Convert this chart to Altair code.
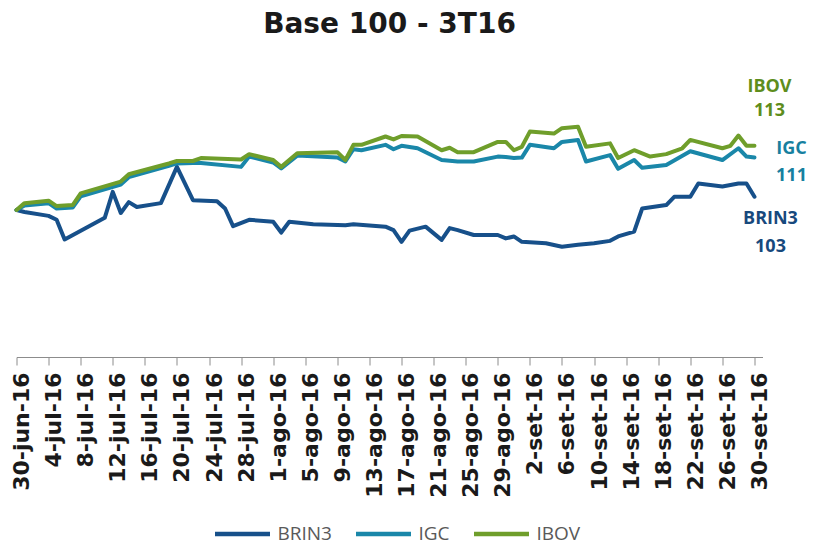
import json
import altair as alt
import pandas as pd

# ---------------- data ----------------
START = "2016-06-30"
SERIES = ["BRIN3", "IGC", "IBOV"]
COLORS = ["#17508a", "#1a87a9", "#6f9e2b"]
TEXT_COLORS = ["#17497d", "#17809f", "#5e8d1c"]
END_LABELS = ["103", "111", "113"]

# day offsets from 30-jun-16 and base-100 values
BRIN3_DAYS = [0, 1, 4, 5, 6, 11, 12, 13, 14, 15, 18, 20, 22, 25, 26, 27, 29, 32, 33, 34,
              37, 41, 42, 46, 47, 48, 49, 51, 53, 54, 55, 57, 60, 61, 62, 63, 66, 68, 70,
              72, 74, 75, 77, 78, 81, 82, 84, 85, 88, 90, 91, 92]
BRIN3_VALS = [100.0, 99.6, 98.8, 98.0, 94.0, 98.4, 103.7, 99.4, 101.6, 100.6, 101.4, 108.8,
              102.0, 101.8, 100.3, 96.7, 98.0, 97.6, 95.4, 97.6, 97.1, 96.9, 97.1, 96.6,
              95.9, 93.5, 95.8, 96.6, 93.9, 96.3, 95.9, 94.9, 94.9, 94.2, 94.6, 93.5, 93.2,
              92.5, 92.9, 93.2, 93.7, 94.6, 95.6, 100.3, 101.0, 102.7, 102.7, 105.4, 104.8,
              105.4, 105.4, 102.7]

IGC_DAYS = [0, 1, 4, 5, 7, 8, 13, 14, 19, 20, 22, 23, 28, 29, 32, 33, 35, 40, 41, 42, 43,
            46, 47, 48, 50, 53, 55, 57, 60, 61, 62, 63, 64, 67, 68, 70, 71, 74, 75, 77, 78,
            81, 84, 88, 90, 91, 92]
IGC_VALS = [100.0, 100.9, 101.4, 100.3, 100.5, 102.8, 105.2, 106.7, 109.0, 109.5, 109.6,
            109.6, 108.8, 110.9, 109.7, 108.5, 111.1, 110.7, 109.9, 112.4, 112.2, 113.3,
            112.4, 113.1, 112.6, 110.2, 109.9, 109.9, 110.9, 110.8, 110.6, 110.7, 113.3,
            112.6, 113.9, 114.3, 109.9, 111.2, 108.4, 110.2, 108.6, 109.2, 112.0, 110.2,
            112.6, 110.9, 110.7]

IBOV_DAYS = [0, 1, 4, 5, 7, 8, 13, 14, 19, 20, 22, 23, 28, 29, 32, 33, 35, 40, 41, 42, 43,
             46, 47, 48, 50, 53, 54, 55, 57, 60, 61, 62, 63, 64, 67, 68, 70, 71, 74, 75, 77,
             79, 81, 83, 84, 88, 89, 90, 91, 92]
IBOV_VALS = [100.0, 101.4, 101.9, 100.8, 101.0, 103.4, 105.8, 107.3, 109.5, 110.0, 110.0,
             110.6, 110.3, 111.4, 110.2, 108.8, 111.6, 111.8, 110.2, 113.3, 113.3, 115.0,
             114.4, 115.1, 115.0, 112.2, 112.7, 111.8, 111.8, 113.9, 113.9, 112.2, 112.9,
             116.0, 115.6, 116.7, 117.0, 112.9, 113.6, 110.6, 112.2, 110.9, 111.4, 112.6,
             114.3, 112.6, 113.1, 115.2, 113.1, 113.1]

MESES = ["jan", "fev", "mar", "abr", "mai", "jun", "jul", "ago", "set", "out", "nov", "dez"]
TICK_DAYS = list(range(0, 93, 4))

# ---------------- build tables ----------------
start = pd.Timestamp(START)


def iso(d):
    return (start + pd.Timedelta(days=d)).strftime("%Y-%m-%d")


def ms(d):
    return int((pd.Timestamp(START, tz="UTC") + pd.Timedelta(days=d)).timestamp() * 1000)


rows = []
for s, days, vals in [("BRIN3", BRIN3_DAYS, BRIN3_VALS),
                      ("IGC", IGC_DAYS, IGC_VALS),
                      ("IBOV", IBOV_DAYS, IBOV_VALS)]:
    for d, v in zip(days, vals):
        rows.append({"serie": s, "data": iso(d), "valor": v})
df = pd.DataFrame(rows)
last = df.groupby("serie", sort=False).tail(1).reset_index(drop=True)

label_expr = ("utcdate(datum.value) + '-' + " + json.dumps(MESES)
              + "[utcmonth(datum.value)] + '-' + utcFormat(datum.value, '%y')")

x = alt.X(
    "data:T",
    scale=alt.Scale(type="utc", domain=[ms(0), ms(93)], nice=False),
    axis=alt.Axis(
        values=[ms(d) for d in TICK_DAYS],
        labelExpr=label_expr,
        labelAngle=270,
        labelFont="DejaVu Sans",
        labelFontWeight="bold",
        labelFontSize=22,
        labelColor="#1a1a1a",
        labelPadding=7,
        labelOffset=5,
        labelOverlap=False,
        labelFlush=False,
        tickSize=8,
        tickColor="#8c8c8c",
        domainColor="#8c8c8c",
        grid=False,
        title=None,
    ),
)
y = alt.Y("valor:Q", scale=alt.Scale(domain=[70, 120], nice=False, zero=False), axis=None)

color = alt.Color(
    "serie:N",
    scale=alt.Scale(domain=SERIES, range=COLORS),
    legend=alt.Legend(
        orient="none",
        legendX=196,
        legendY=392,
        direction="horizontal",
        title=None,
        symbolType="stroke",
        symbolSize=3025,
        symbolStrokeWidth=4.5,
        labelFont="Open Sans",
        labelFontSize=19,
        labelColor="#595959",
        labelOffset=5,
        columnPadding=14,
        padding=0,
    ),
)

base = alt.Chart(df)
layers = []
for s in SERIES:
    layers.append(
        base.transform_filter(alt.datum.serie == s)
        .mark_line(strokeWidth=4, strokeJoin="round", strokeCap="round")
        .encode(x=x, y=y, color=color)
    )

label_style = {
    "IBOV": dict(dx=15, dy=-59, lineHeight=24),
    "IGC": dict(dx=37, dy=-9, lineHeight=27),
    "BRIN3": dict(dx=16, dy=22, lineHeight=28),
}
for s, tc, lab in zip(SERIES, TEXT_COLORS, END_LABELS):
    layers.append(
        alt.Chart(last)
        .transform_filter(alt.datum.serie == s)
        .mark_text(
            text=[s, lab],
            font="Open Sans",
            fontSize=18,
            fontWeight="bold",
            color=tc,
            align="center",
            baseline="middle",
            **label_style[s],
        )
        .encode(x=x, y=y)
    )

chart = (
    alt.layer(*layers)
    .properties(
        width=746,
        height=245,
        background="white",
        autosize=alt.AutoSizeParams(type="none"),
        padding={"left": 8.5, "top": 104, "right": 45.5, "bottom": 188},
        title=alt.TitleParams(
            "Base 100 - 3T16",
            font="DejaVu Sans",
            fontSize=28,
            fontWeight="bold",
            color="#1a1a1a",
            anchor="middle",
            baseline="alphabetic",
            offset=17,
        ),
    )
    .configure_view(strokeWidth=0, stroke="transparent")
)

chart.save("out.html", embed_options={"renderer": "svg", "actions": False})
